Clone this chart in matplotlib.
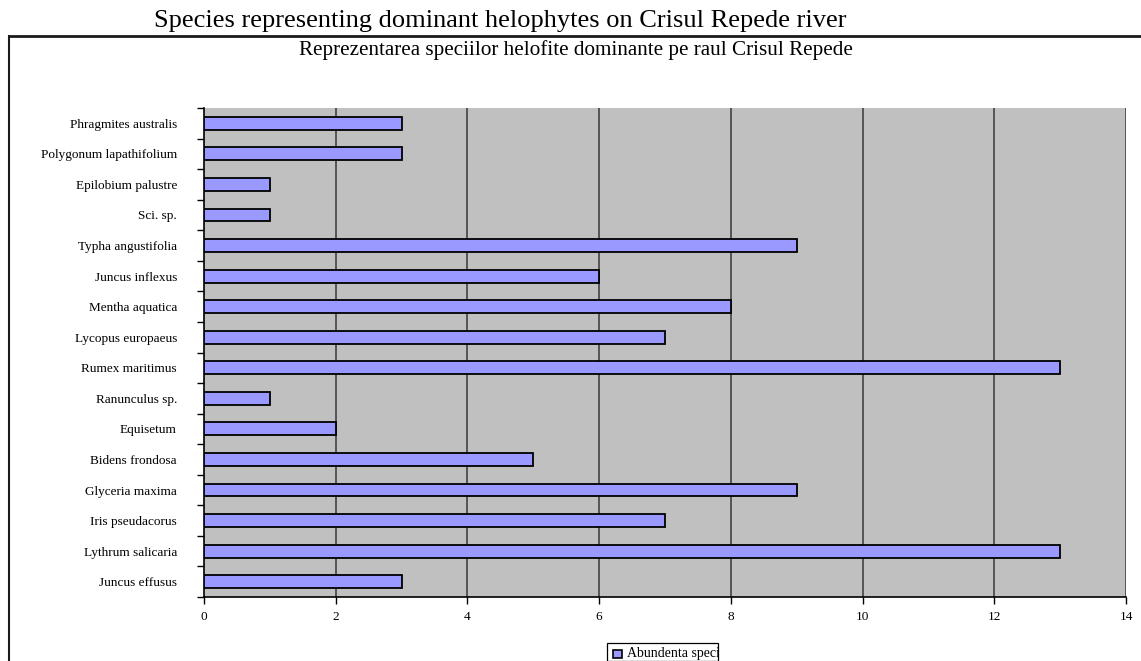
import numpy as np
import matplotlib.pyplot as plt
from matplotlib.patches import Rectangle
from matplotlib.lines import Line2D

W, H = 1141, 661
DPI = 100

species = [
    "Phragmites australis",
    "Polygonum lapathifolium",
    "Epilobium palustre",
    "Sci. sp.",
    "Typha angustifolia",
    "Juncus inflexus",
    "Mentha aquatica",
    "Lycopus europaeus",
    "Rumex maritimus",
    "Ranunculus sp.",
    "Equisetum",
    "Bidens frondosa",
    "Glyceria maxima",
    "Iris pseudacorus",
    "Lythrum salicaria",
    "Juncus effusus",
]
abundance = [3, 3, 1, 1, 9, 6, 8, 7, 13, 1, 2, 5, 9, 7, 13, 3]
x_ticks = [0, 2, 4, 6, 8, 10, 12, 14]

SERIF = ["Liberation Serif", "DejaVu Serif"]


def px(x, y):
    """pixel coords (from top-left) -> figure fraction"""
    return x / W, 1 - y / H


fig = plt.figure(figsize=(W / DPI, H / DPI), dpi=DPI)
fig.patch.set_facecolor("white")

# outer chart frame (only top and left edges fall inside the image)
x0, y0 = px(9, 35.5)
fig.add_artist(Line2D([x0, 1.0], [y0, y0], color="#1a1a1a", lw=2.0))
fig.add_artist(Line2D([x0, x0], [y0, 0.0], color="#1a1a1a", lw=1.5))

fig.text(px(500, 0)[0], px(0, 21.5)[1],
         "Species representing dominant helophytes on Crisul Repede river",
         ha="center", va="center", fontsize=19, family=SERIF)
fig.text(px(576, 0)[0], px(0, 50)[1],
         "Reprezentarea speciilor helofite dominante pe raul Crisul Repede",
         ha="center", va="center", fontsize=15.2, family=SERIF)

left, top = px(204, 108)
right, bottom = px(1126, 597)
ax = fig.add_axes([left, bottom, right - left, top - bottom])
ax.set_facecolor("#c0c0c0")

n = len(species)
ypos = np.arange(n)[::-1]
ax.barh(ypos, abundance, height=0.42, color="#9999ff",
        edgecolor="black", linewidth=1.3, zorder=3)

ax.set_xlim(0, 14)
ax.set_ylim(-0.5, n - 0.5)
ax.set_xticks(x_ticks)
ax.set_xticklabels([str(t) for t in x_ticks], family=SERIF, fontsize=9.5)
for t in x_ticks[1:]:
    ax.axvline(t, color="#383838", lw=1.1, zorder=1)

ax.set_yticks(ypos)
ax.set_yticklabels(species, family=SERIF, fontsize=9.5)
ax.set_yticks(np.arange(n + 1) - 0.5, minor=True)
ax.tick_params(axis="y", which="major", length=0, pad=19.5)
ax.tick_params(axis="y", which="minor", length=5, width=1, direction="out")
ax.tick_params(axis="x", length=5, width=1, direction="out", pad=5)

for side in ("top", "right"):
    ax.spines[side].set_visible(False)
for side in ("left", "bottom"):
    ax.spines[side].set_linewidth(1.2)

# legend box, cut off by the bottom edge of the image
lx, ly = px(607, 643)
box = Rectangle((lx, 0), (718 - 607) / W, ly, transform=fig.transFigure,
                facecolor="white", edgecolor="black", lw=0.9)
fig.add_artist(box)
fig.add_artist(Rectangle(px(613, 658), 9 / W, 8 / H, transform=fig.transFigure,
                         facecolor="#9999ff", edgecolor="black", lw=1.2))
leg_txt = fig.text(px(627, 0)[0], px(0, 654)[1], "Abundenta speciilor",
                   ha="left", va="center", fontsize=10, family=SERIF)
leg_txt.set_clip_path(box)

fig.savefig("out.png", dpi=DPI)
